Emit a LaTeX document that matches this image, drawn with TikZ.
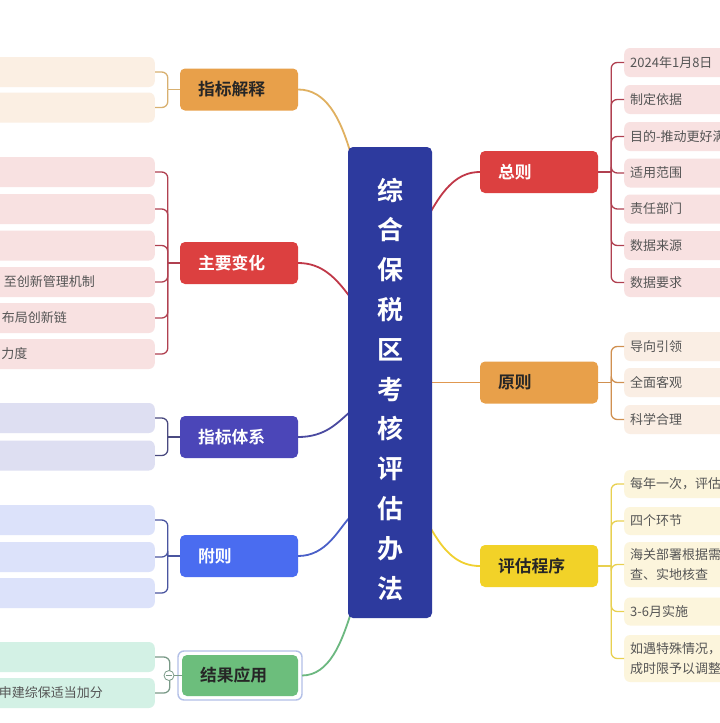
\documentclass[tikz,border=0pt]{standalone}
\usepackage{fontspec}
\setmainfont{Noto Sans CJK SC}[BoldFont={Noto Sans CJK SC Bold}]
\definecolor{cBlue}{HTML}{2D3A9E}
\definecolor{cOrange}{HTML}{E8A04A}
\definecolor{cRed}{HTML}{DC4040}
\definecolor{cIndigo}{HTML}{4B46B8}
\definecolor{cBlueB}{HTML}{4A6CF0}
\definecolor{cGreen}{HTML}{6CBE7C}
\definecolor{cYellow}{HTML}{F2D228}
\definecolor{fPeach}{HTML}{FBEFE3}
\definecolor{fPink}{HTML}{F8E1E1}
\definecolor{fLav}{HTML}{DEDFF2}
\definecolor{fBlue}{HTML}{DCE2FA}
\definecolor{fMint}{HTML}{D3F1E5}
\definecolor{fCream}{HTML}{FAEEE4}
\definecolor{fYel}{HTML}{FCF5DC}
\definecolor{lOrange}{HTML}{E0B060}
\definecolor{lRed}{HTML}{C03848}
\definecolor{lIndigo}{HTML}{4A4AA0}
\definecolor{lBlue}{HTML}{4A60C8}
\definecolor{lGreen}{HTML}{6CB880}
\definecolor{lOr2}{HTML}{E09850}
\definecolor{lYel}{HTML}{F0D030}
\definecolor{bTan}{HTML}{D8B070}
\definecolor{bRed}{HTML}{B04050}
\definecolor{bInd}{HTML}{4A4A80}
\definecolor{bBlue}{HTML}{4A55A0}
\definecolor{bGreen}{HTML}{7A9A88}
\definecolor{bOr}{HTML}{D09050}
\definecolor{bYel}{HTML}{E8D050}
\definecolor{tGray}{HTML}{555555}
\begin{document}
\begin{tikzpicture}[x=1pt,y=-1pt,
  pbox/.style={rounded corners=5pt, inner xsep=18pt, inner ysep=0pt, text width=82pt, minimum height=42pt, align=left, font=\bfseries\fontsize{16.8}{19}\selectfont},
  lchild/.style={rounded corners=6pt, minimum width=190pt, minimum height=30pt, anchor=east, inner sep=0pt},
  rchild/.style={rounded corners=6pt, text width=118pt, inner xsep=6pt, inner ysep=0pt, anchor=west, align=left, text=tGray, font=\fontsize{13}{20}\selectfont},
  ctext/.style={text=tGray, font=\fontsize{13}{20}\selectfont, inner sep=0pt},
  mainln/.style={line width=1.8pt},
  brk/.style={line width=1.3pt, rounded corners=6pt}
]
\useasboundingbox (0,0) rectangle (720,723);
\clip (0,0) rectangle (720,723);
\fill[white] (0,0) rectangle (720,723);

% ---------- left parents ----------
\node[pbox, fill=cOrange, text=black!85] (zb) at (239,89.5) {指标解释};
\node[pbox, fill=cRed, text=white] (zy) at (239,263) {主要变化};
\node[pbox, fill=cIndigo, text=white] (tx) at (239,437) {指标体系};
\node[pbox, fill=cBlueB, text=white] (fz) at (239,556) {附则};
\draw[rounded corners=6pt, draw=cyan!40!blue!30, line width=1.4pt] (178,651) rectangle (302,700);
\node[pbox, fill=cGreen, text=black!85, minimum height=41pt, text width=80pt] (jg) at (240,675.5) {结果应用};

% ---------- right parents ----------
\node[pbox, fill=cRed, text=white] (zz) at (539,172) {总则};
\node[pbox, fill=cOrange, text=black!85] (yz) at (539,382.5) {原则};
\node[pbox, fill=cYellow, text=black!85] (pg) at (539,566) {评估程序};

% ---------- left children ----------
\node[lchild, fill=fPeach] (zb1) at (155,72) {};
\node[lchild, fill=fPeach] (zb2) at (155,107.5) {};
\node[lchild, fill=fPink] (zy1) at (155,172) {};
\node[lchild, fill=fPink] (zy2) at (155,209) {};
\node[lchild, fill=fPink] (zy3) at (155,245.5) {};
\node[lchild, fill=fPink] (zy4) at (155,282) {};
\node[lchild, fill=fPink] (zy5) at (155,318) {};
\node[lchild, fill=fPink] (zy6) at (155,354) {};
\node[ctext, anchor=east] (zy4t) at (95,282) {至创新管理机制};
\node[ctext, anchor=east] (zy5t) at (67,318) {布局创新链};
\node[ctext, anchor=east] (zy6t) at (27.5,354) {力度};
\node[lchild, fill=fLav] (tx1) at (155,418) {};
\node[lchild, fill=fLav] (tx2) at (155,455.5) {};
\node[lchild, fill=fBlue] (fz1) at (155,520) {};
\node[lchild, fill=fBlue] (fz2) at (155,557) {};
\node[lchild, fill=fBlue] (fz3) at (155,593) {};
\node[lchild, fill=fMint] (jg1) at (155,657) {};
\node[lchild, fill=fMint] (jg2) at (155,693) {};
\node[ctext, anchor=east] (jg2t) at (103,693) {申建综保适当加分};

% ---------- right children ----------
\node[rchild, fill=fPink, minimum height=29pt] (zz1) at (624,62.5) {2024年1月8日};
\node[rchild, fill=fPink, minimum height=29pt] (zz2) at (624,99.5) {制定依据};
\node[rchild, fill=fPink, minimum height=29pt] (zz3) at (624,136.5) {目的-推动更好满足};
\node[rchild, fill=fPink, minimum height=29pt] (zz4) at (624,173) {适用范围};
\node[rchild, fill=fPink, minimum height=29pt] (zz5) at (624,209) {责任部门};
\node[rchild, fill=fPink, minimum height=29pt] (zz6) at (624,245.5) {数据来源};
\node[rchild, fill=fPink, minimum height=29pt] (zz7) at (624,282.5) {数据要求};
\node[rchild, fill=fCream, minimum height=29pt] (yz1) at (624,346.5) {导向引领};
\node[rchild, fill=fCream, minimum height=29pt] (yz2) at (624,382.5) {全面客观};
\node[rchild, fill=fCream, minimum height=29pt] (yz3) at (624,419.5) {科学合理};
\node[rchild, fill=fYel, minimum height=28pt] (pg1) at (624,484) {每年一次，评估工作};
\node[rchild, fill=fYel, minimum height=28pt] (pg2) at (624,521) {四个环节};
\node[rchild, fill=fYel, minimum height=45pt] (pg3) at (624,564.5) {海关部署根据需要\\查、实地核查};
\node[rchild, fill=fYel, minimum height=28pt] (pg4) at (624,611.5) {3-6月实施};
\node[rchild, fill=fYel, minimum height=47pt] (pg5) at (624,658.5) {如遇特殊情况，可\\成时限予以调整};

% ---------- brackets ----------
\draw[brk, draw=bTan] (zb.west) -- ([xshift=-12pt]zb.west);
\foreach \c in {zb1,zb2} \draw[brk, draw=bTan] ([xshift=-12pt]zb.west) |- (\c.east);
\draw[brk, draw=bRed] (zy.west) -- ([xshift=-12pt]zy.west);
\foreach \c in {zy1,zy2,zy3,zy4,zy5,zy6} \draw[brk, draw=bRed] ([xshift=-12pt]zy.west) |- (\c.east);
\draw[brk, draw=bInd] (tx.west) -- ([xshift=-12pt]tx.west);
\foreach \c in {tx1,tx2} \draw[brk, draw=bInd] ([xshift=-12pt]tx.west) |- (\c.east);
\draw[brk, draw=bBlue] (fz.west) -- ([xshift=-12pt]fz.west);
\foreach \c in {fz1,fz2,fz3} \draw[brk, draw=bBlue] ([xshift=-12pt]fz.west) |- (\c.east);
\draw[brk, draw=bGreen] (jg.west) -- ([xshift=-12pt]jg.west);
\foreach \c in {jg1,jg2} \draw[brk, draw=bGreen] ([xshift=-12pt]jg.west) |- (\c.east);
\node[circle, draw=bGreen, fill=white, line width=0.8pt, minimum size=10pt, inner sep=0pt] (col) at (169,675.5) {};
\draw[bGreen, line width=0.8pt] ([xshift=-3pt]col.center) -- ([xshift=3pt]col.center);
\draw[brk, draw=bRed] (zz.east) -- ([xshift=13pt]zz.east);
\foreach \c in {zz1,zz2,zz3,zz4,zz5,zz6,zz7} \draw[brk, draw=bRed] ([xshift=13pt]zz.east) |- (\c.west);
\draw[brk, draw=bOr] (yz.east) -- ([xshift=13pt]yz.east);
\foreach \c in {yz1,yz2,yz3} \draw[brk, draw=bOr] ([xshift=13pt]yz.east) |- (\c.west);
\draw[brk, draw=bYel] (pg.east) -- ([xshift=13pt]pg.east);
\foreach \c in {pg1,pg2,pg3,pg4,pg5} \draw[brk, draw=bYel] ([xshift=13pt]pg.east) |- (\c.west);

% ---------- main connectors ----------
\coordinate (eZB) at (350,151);
\coordinate (eZY) at (350,297);
\coordinate (eTX) at (350,412);
\coordinate (eFZ) at (350,517);
\coordinate (eJG) at (350,616);
\coordinate (eZZ) at (430,213);
\coordinate (eYZ) at (430,382.5);
\coordinate (ePG) at (430,527);
\draw[mainln, lOrange] (zb.east) .. controls (326,89.5) and (340,118) .. (eZB);
\draw[mainln, lRed] (zy.east) .. controls (322,263) and (336,278) .. (eZY);
\draw[mainln, lIndigo] (tx.east) .. controls (326,437) and (338,422) .. (eTX);
\draw[mainln, lBlue] (fz.east) .. controls (326,556) and (338,530) .. (eFZ);
\draw[mainln, lGreen] (302,675.5) .. controls (330,675.5) and (342,640) .. (eJG);
\draw[mainln, lRed] (eZZ) .. controls (444,188) and (458,172) .. (zz.west);
\draw[mainln, lOr2] (eYZ) -- (yz.west);
\draw[mainln, lYel] (ePG) .. controls (444,552) and (458,566) .. (pg.west);

% ---------- central title ----------
\node[fill=cBlue, rounded corners=5pt, minimum width=84pt, minimum height=471pt, inner sep=0pt] (T) at (390,382.5) {};
\node[text=white, align=center, font=\bfseries\fontsize{26}{39.8}\selectfont, inner sep=0pt] (Tt) at (390,389) {综\\合\\保\\税\\区\\考\\核\\评\\估\\办\\法};
\end{tikzpicture}
\end{document}
